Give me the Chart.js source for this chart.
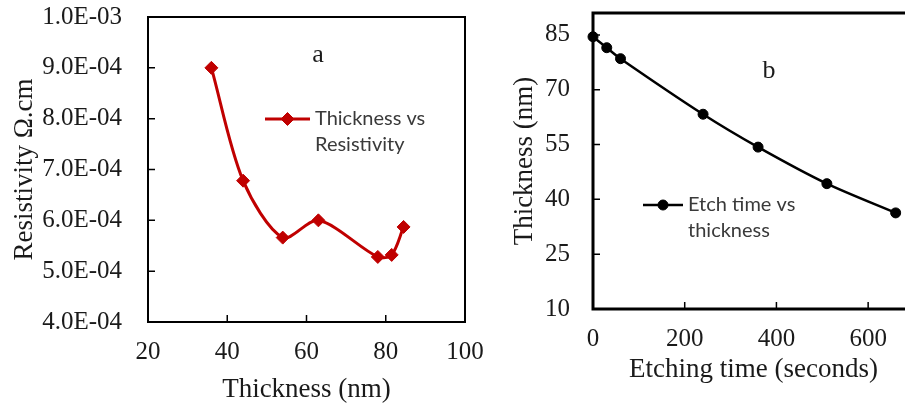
<!DOCTYPE html>
<html>
<head>
<meta charset="utf-8">
<script src="https://cdn.jsdelivr.net/npm/chart.js@4.4.1/dist/chart.umd.min.js"></script>
<style>
  html, body { margin: 0; padding: 0; background: #fff; overflow: hidden; width: 905px; height: 406px; }
  #left { position: absolute; left: 0; top: 0; }
  #right { position: absolute; left: 488px; top: 0; }
</style>
</head>
<body>
<canvas id="left" width="488" height="406"></canvas>
<canvas id="right" width="440" height="406"></canvas>
<script>
// panel a: thickness vs resistivity
var thicknessA = [36, 44, 54, 63, 78, 81.5, 84.5];
var resistivity = [9.0e-4, 6.78e-4, 5.66e-4, 6.0e-4, 5.28e-4, 5.32e-4, 5.87e-4];
var ticksAX = [20, 40, 60, 80, 100];
var ticksAY = [4e-4, 5e-4, 6e-4, 7e-4, 8e-4, 9e-4, 1e-3];

// panel b: etch time vs thickness
var etchTime = [0, 30, 60, 240, 360, 510, 660];
var thicknessB = [84.5, 81.5, 78.5, 63.3, 54.3, 44.3, 36.3];
var ticksBX = [0, 200, 400, 600];
var ticksBY = [10, 25, 40, 55, 70, 85];

var SERIF = '"Liberation Serif", "Times New Roman", serif';
var SANS = 'Lato, "Liberation Sans", sans-serif';
var INK = '#1a1a1a';

function sci(v) {
  var s = Number(v).toExponential(1).split('e');
  var e = parseInt(s[1], 10);
  return s[0] + 'E' + (e < 0 ? '-' : '+') + String(Math.abs(e)).padStart(2, '0');
}

function toTicks(arr) {
  return function (scale) { scale.ticks = arr.map(function (v) { return { value: v }; }); };
}

// fix the axis box size and drop the label overflow padding, so layout.padding places the plot
function fitTo(size) {
  return function (s) {
    if (s.isHorizontal()) s.height = size; else s.width = size;
    s.paddingTop = s.paddingBottom = s.paddingLeft = s.paddingRight = 0;
  };
}

// box round the plot area plus the short inward tick marks
function frame(lw) {
  return {
    id: 'frame',
    beforeDatasetsDraw: function (chart) {
      var a = chart.chartArea, ctx = chart.ctx;
      var xs = chart.scales.x, ys = chart.scales.y;
      ctx.save();
      ctx.strokeStyle = '#000';
      ctx.lineWidth = 1.5;
      ctx.beginPath();
      xs.ticks.forEach(function (t) {
        var px = xs.getPixelForValue(t.value);
        if (px > a.left + 2 && px < a.right - 2) { ctx.moveTo(px, a.bottom); ctx.lineTo(px, a.bottom - 7); }
      });
      ys.ticks.forEach(function (t) {
        var py = ys.getPixelForValue(t.value);
        if (py > a.top + 2 && py < a.bottom - 2) { ctx.moveTo(a.left, py); ctx.lineTo(a.left + 7, py); }
      });
      ctx.stroke();
      ctx.lineWidth = lw;
      ctx.strokeRect(a.left, a.top, a.right - a.left, a.bottom - a.top);
      ctx.restore();
    }
  };
}

// panel letter and the two-line legend
function notes(o) {
  return {
    id: 'notes',
    afterDraw: function (chart) {
      var ctx = chart.ctx;
      ctx.save();
      ctx.fillStyle = INK;
      ctx.font = '26px ' + SERIF;
      ctx.textAlign = 'center';
      ctx.textBaseline = 'middle';
      ctx.fillText(o.tag, o.tagX, o.tagY);

      ctx.strokeStyle = o.color;
      ctx.lineWidth = o.lineWidth;
      ctx.beginPath();
      ctx.moveTo(o.lx, o.ly);
      ctx.lineTo(o.lx + o.len, o.ly);
      ctx.stroke();
      ctx.fillStyle = o.color;
      ctx.lineWidth = 1;
      Chart.helpers.drawPoint(ctx, { pointStyle: o.style, radius: o.radius, rotation: 0, borderWidth: 1 }, o.lx + o.len / 2, o.ly);

      ctx.fillStyle = '#3a3a3a';
      ctx.font = '20px ' + SANS;
      ctx.textAlign = 'left';
      o.text.forEach(function (t, i) { ctx.fillText(t, o.lx + o.len + 5, o.ly + i * 26); });
      ctx.restore();
    }
  };
}

new Chart(document.getElementById('left'), {
  type: 'line',
  data: {
    datasets: [{
      data: thicknessA.map(function (t, i) { return { x: t, y: resistivity[i] }; }),
      borderColor: '#C00000',
      backgroundColor: '#C00000',
      borderWidth: 3,
      pointStyle: 'rectRot',
      pointRadius: 6.5,
      pointBorderWidth: 1,
      tension: 0.3,
      clip: false
    }]
  },
  options: {
    responsive: false,
    animation: false,
    layout: { padding: { top: 17, right: 23, left: 0, bottom: 0 } },
    plugins: { legend: { display: false }, tooltip: { enabled: false } },
    scales: {
      x: {
        type: 'linear', min: 20, max: 100,
        afterBuildTicks: toTicks(ticksAX),
        afterFit: fitTo(84),
        grid: { display: false, drawTicks: false, tickLength: 0 },
        border: { display: false },
        ticks: { font: { family: SERIF, size: 25 }, color: INK, padding: 15, maxRotation: 0 },
        title: { display: true, text: 'Thickness (nm)', font: { family: SERIF, size: 27 }, color: INK, padding: { top: 0, bottom: 0 } }
      },
      y: {
        type: 'linear', min: 4e-4, max: 1e-3,
        afterBuildTicks: toTicks(ticksAY),
        afterFit: fitTo(148),
        grid: { display: false, drawTicks: false, tickLength: 0 },
        border: { display: false },
        ticks: { font: { family: SERIF, size: 25 }, color: INK, padding: 26, callback: sci },
        title: { display: true, text: 'Resistivity \u03A9.cm', font: { family: SERIF, size: 27 }, color: INK, padding: { top: 9, bottom: 0 } }
      }
    }
  },
  plugins: [frame(2), notes({
    tag: 'a', tagX: 318, tagY: 55,
    color: '#C00000', lineWidth: 3, style: 'rectRot', radius: 6.5,
    lx: 265, ly: 119, len: 45,
    text: ['Thickness vs', 'Resistivity']
  })]
});

new Chart(document.getElementById('right'), {
  type: 'line',
  data: {
    datasets: [{
      data: etchTime.map(function (t, i) { return { x: t, y: thicknessB[i] }; }),
      borderColor: '#000',
      backgroundColor: '#000',
      borderWidth: 2.5,
      pointStyle: 'circle',
      pointRadius: 5,
      pointBorderWidth: 1,
      tension: 0.3,
      clip: false
    }]
  },
  options: {
    responsive: false,
    animation: false,
    layout: { padding: { top: 13, right: 14, left: 0, bottom: 0 } },
    plugins: { legend: { display: false }, tooltip: { enabled: false } },
    scales: {
      x: {
        type: 'linear', min: 0, max: 700,
        afterBuildTicks: toTicks(ticksBX),
        afterFit: fitTo(97),
        grid: { display: false, drawTicks: false, tickLength: 0 },
        border: { display: false },
        ticks: { font: { family: SERIF, size: 25 }, color: INK, padding: 15, maxRotation: 0 },
        title: { display: true, text: 'Etching time (seconds)', font: { family: SERIF, size: 27 }, color: INK, padding: { top: 0, bottom: 20 } }
      },
      y: {
        type: 'linear', min: 10, max: 91,
        afterBuildTicks: toTicks(ticksBY),
        afterFit: fitTo(105),
        grid: { display: false, drawTicks: false, tickLength: 0 },
        border: { display: false },
        ticks: { font: { family: SERIF, size: 25 }, color: INK, padding: 23 },
        title: { display: true, text: 'Thickness (nm)', font: { family: SERIF, size: 27 }, color: INK, padding: { top: 21, bottom: 0 } }
      }
    }
  },
  plugins: [frame(3), notes({
    tag: 'b', tagX: 769 - 488, tagY: 71,
    color: '#000', lineWidth: 2.5, style: 'circle', radius: 5,
    lx: 643 - 488, ly: 205, len: 40,
    text: ['Etch time vs', 'thickness']
  })]
});
</script>
</body>
</html>
